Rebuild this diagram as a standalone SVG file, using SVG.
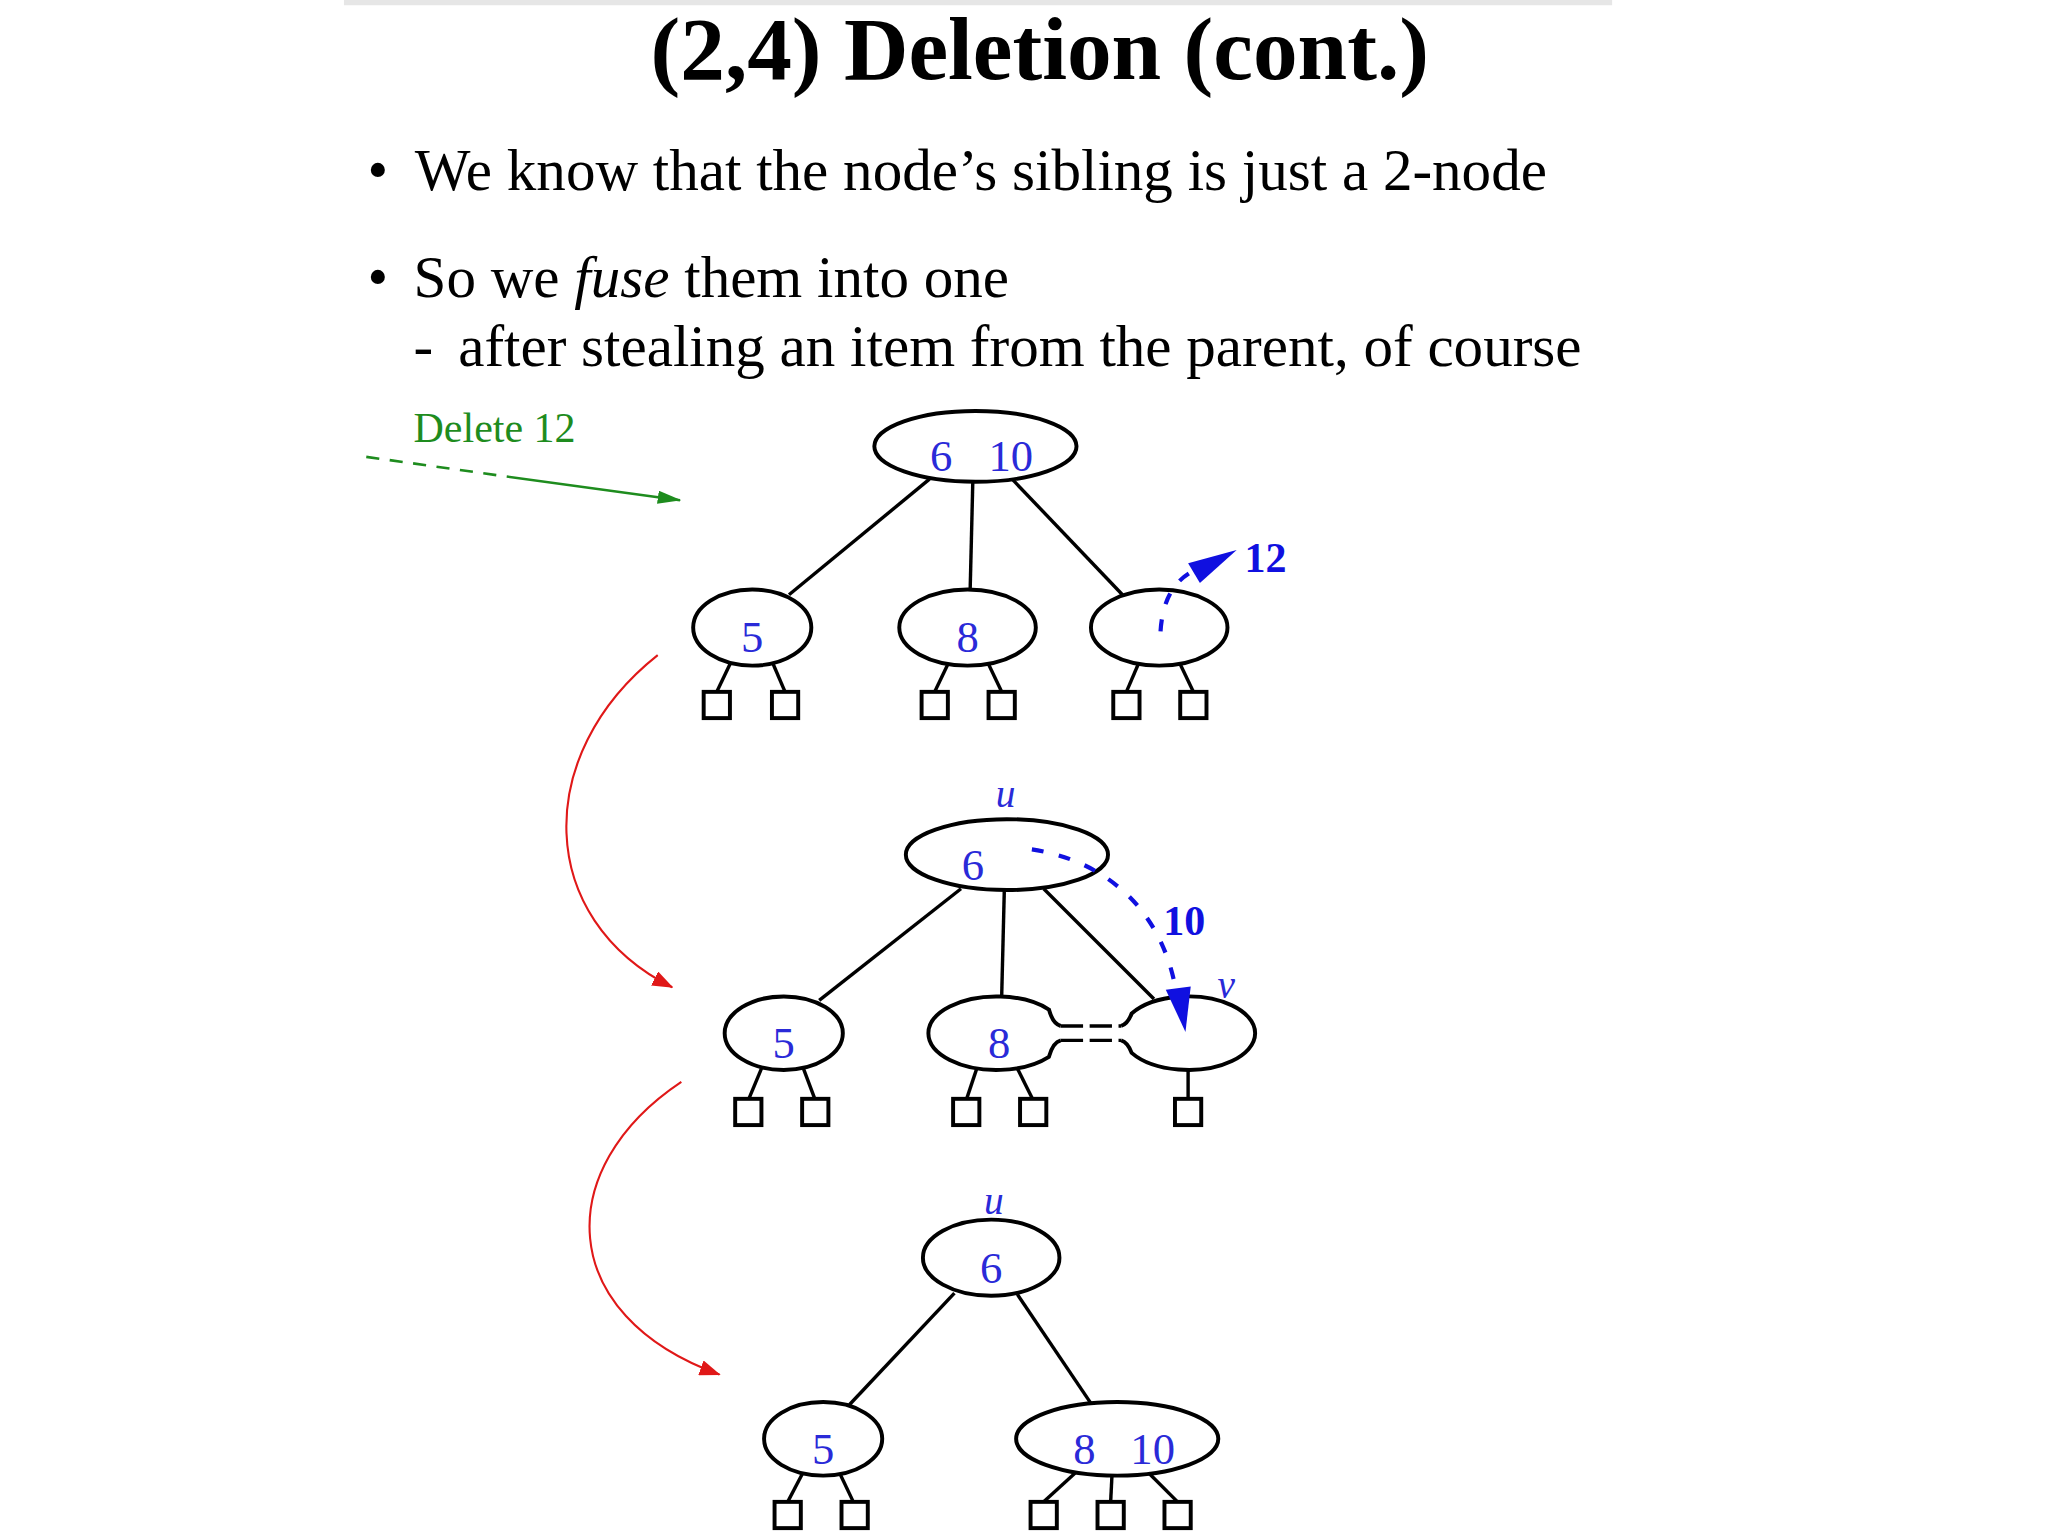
<svg xmlns="http://www.w3.org/2000/svg" width="2048" height="1536" viewBox="0 0 2048 1536">
<style>
.serif{font-family:"Liberation Serif","Times New Roman",serif}
.title{font-size:68px;font-weight:bold;fill:#000}
.body{font-size:45px;fill:#000}
.num{font-size:34px;fill:#2a2ad8;text-anchor:middle}
.lbl{font-size:30px;fill:#2a2ad8;font-style:italic;text-anchor:middle}
.blab{font-size:32px;fill:#1010e0;font-weight:bold}
.node{fill:none;stroke:#000;stroke-width:3}
.edge{stroke:#000;stroke-width:2.6;fill:none}
.leaf{fill:#fff;stroke:#000;stroke-width:3}
.red{fill:none;stroke:#e01818;stroke-width:1.6}
.blue{fill:none;stroke:#1010e0;stroke-width:3.2;stroke-dasharray:9 12}
</style>
<defs>
<marker id="redArrow" viewBox="0 0 16 12" refX="15" refY="6" markerWidth="16" markerHeight="12" markerUnits="userSpaceOnUse" orient="auto">
<path d="M0,0 L16,6 L0,12 z" fill="#e01818"/>
</marker>
<marker id="greenArrow" viewBox="0 0 18 10" refX="17" refY="5" markerWidth="18" markerHeight="10" markerUnits="userSpaceOnUse" orient="auto">
<path d="M0,0 L18,5 L0,10 z" fill="#1e8c1e"/>
</marker>
</defs>
<rect width="2048" height="1536" fill="#fff"/>
<g transform="scale(1.31282)">
<line x1="262" y1="2" x2="1228" y2="2" stroke="#e6e6e6" stroke-width="4"/>
<g id="text">
<text class="serif title" x="792" y="60" text-anchor="middle">(2,4) Deletion (cont.)</text>
<text class="serif body" x="280" y="145">•</text>
<text class="serif body" x="316" y="145">We know that the node’s sibling is just a 2-node</text>
<text class="serif body" x="280" y="226">•</text>
<text class="serif body" x="315" y="226">So we <tspan font-style="italic">fuse</tspan> them into one</text>
<text class="serif body" x="315" y="279">-</text>
<text class="serif body" x="349" y="279">after stealing an item from the parent, of course</text>
<text class="serif" x="315" y="337" font-size="32" fill="#1e8c1e">Delete 12</text>
</g>
<g id="connectors">
<line x1="279" y1="348" x2="386" y2="363" stroke="#1e8c1e" stroke-width="2" stroke-dasharray="10 8"/>
<line x1="386" y1="363" x2="518" y2="381" stroke="#1e8c1e" stroke-width="2" marker-end="url(#greenArrow)"/>
<path class="red" d="M501,499 C405,575 408,700 512,752" marker-end="url(#redArrow)"/>
<path class="red" d="M519,824 C420,890 423,1002 548,1047" marker-end="url(#redArrow)"/>
<line class="edge" x1="708" y1="365" x2="601" y2="453"/>
<line class="edge" x1="741" y1="367" x2="739" y2="449"/>
<line class="edge" x1="771" y1="365" x2="855" y2="453"/>
<line class="edge" x1="556" y1="506" x2="546" y2="527"/>
<line class="edge" x1="589" y1="506" x2="598" y2="527"/>
<line class="edge" x1="722" y1="506" x2="712" y2="527"/>
<line class="edge" x1="753" y1="506" x2="763" y2="527"/>
<line class="edge" x1="867" y1="506" x2="858" y2="527"/>
<line class="edge" x1="899" y1="506" x2="909" y2="527"/>
<line class="edge" x1="732" y1="677" x2="624" y2="762"/>
<line class="edge" x1="765" y1="678" x2="763" y2="759"/>
<line class="edge" x1="795" y1="677" x2="879" y2="761"/>
<line class="edge" x1="580" y1="814" x2="570" y2="838"/>
<line class="edge" x1="612" y1="814" x2="621" y2="838"/>
<line class="edge" x1="744" y1="814" x2="736" y2="838"/>
<line class="edge" x1="775" y1="814" x2="787" y2="838"/>
<line class="edge" x1="905" y1="815" x2="905" y2="838"/>
<line class="edge" x1="727" y1="985" x2="647" y2="1070"/>
<line class="edge" x1="775" y1="986" x2="831" y2="1069"/>
<line class="edge" x1="611" y1="1123" x2="600" y2="1144"/>
<line class="edge" x1="640" y1="1123" x2="650" y2="1144"/>
<line class="edge" x1="819" y1="1122" x2="795" y2="1144"/>
<line class="edge" x1="847" y1="1124" x2="846" y2="1144"/>
<line class="edge" x1="875" y1="1122" x2="897" y2="1144"/>
<line x1="808" y1="781.5" x2="854" y2="781.5" stroke="#000" stroke-width="2.6" stroke-dasharray="17 5"/>
<line x1="808" y1="792.5" x2="854" y2="792.5" stroke="#000" stroke-width="2.6" stroke-dasharray="17 5"/>
</g>
<g id="tree1">
<g id="t1-root"><ellipse class="node" cx="743" cy="340" rx="77" ry="27"/><text class="serif num" x="717" y="359">6</text><text class="serif num" x="770" y="359">10</text></g>
<g id="t1-n5"><ellipse class="node" cx="573" cy="478" rx="45" ry="29"/><text class="serif num" x="573" y="497">5</text></g>
<g id="t1-n8"><ellipse class="node" cx="737" cy="478" rx="52" ry="29"/><text class="serif num" x="737" y="497">8</text></g>
<g id="t1-n12"><ellipse class="node" cx="883" cy="478" rx="52" ry="29"/></g>
<g id="t1-leaves">
<rect class="leaf" x="536" y="527" width="20" height="20"/><rect class="leaf" x="588" y="527" width="20" height="20"/>
<rect class="leaf" x="702" y="527" width="20" height="20"/><rect class="leaf" x="753" y="527" width="20" height="20"/>
<rect class="leaf" x="848" y="527" width="20" height="20"/><rect class="leaf" x="899" y="527" width="20" height="20"/>
</g>
<g id="t1-remove">
<path class="blue" d="M884,481 Q886,448 907,436" stroke-dasharray="9 14"/>
<polygon points="942,419 905,429 914,444" fill="#1010e0"/>
<text class="serif blab" x="948" y="436">12</text>
</g>
</g>
<g id="tree2">
<text class="serif lbl" x="766" y="615">u</text>
<g id="t2-root"><ellipse class="node" cx="767" cy="651" rx="77" ry="27"/><text class="serif num" x="741" y="670">6</text></g>
<g id="t2-n5"><ellipse class="node" cx="597" cy="787" rx="45" ry="28"/><text class="serif num" x="597" y="806">5</text></g>
<g id="t2-n8"><path class="node" d="M808,781.5 Q802,780 799,769 A52 28 0 1 0 799,805 Q802,794 808,792.5"/><text class="serif num" x="761" y="806">8</text></g>
<g id="t2-v"><path class="node" d="M854,781.5 Q859,780 862,772 A51 28 0 1 1 862,802 Q859,794 854,792.5"/></g>
<g id="t2-leaves">
<rect class="leaf" x="560" y="837" width="20" height="20"/><rect class="leaf" x="611" y="837" width="20" height="20"/>
<rect class="leaf" x="726" y="837" width="20" height="20"/><rect class="leaf" x="777" y="837" width="20" height="20"/>
<rect class="leaf" x="895" y="837" width="20" height="20"/>
</g>
<g id="t2-move">
<path class="blue" d="M786,647 C839,655 885,690 896,756"/>
<polygon points="903,786 888,754 907,751.5" fill="#1010e0"/>
<text class="serif blab" x="886" y="712">10</text>
<text class="serif lbl" x="934" y="760">v</text>
</g>
</g>
<g id="tree3">
<text class="serif lbl" x="757" y="925">u</text>
<g id="t3-root"><ellipse class="node" cx="755" cy="958" rx="52" ry="29"/><text class="serif num" x="755" y="977">6</text></g>
<g id="t3-n5"><ellipse class="node" cx="627" cy="1096" rx="45" ry="28"/><text class="serif num" x="627" y="1115">5</text></g>
<g id="t3-n810"><ellipse class="node" cx="851" cy="1096" rx="77" ry="28"/><text class="serif num" x="826" y="1115">8</text><text class="serif num" x="878" y="1115">10</text></g>
<g id="t3-leaves">
<rect class="leaf" x="590" y="1144" width="20" height="20"/><rect class="leaf" x="641" y="1144" width="20" height="20"/>
<rect class="leaf" x="785" y="1144" width="20" height="20"/><rect class="leaf" x="836" y="1144" width="20" height="20"/>
<rect class="leaf" x="887" y="1144" width="20" height="20"/>
</g>
</g>
</g>
</svg>
